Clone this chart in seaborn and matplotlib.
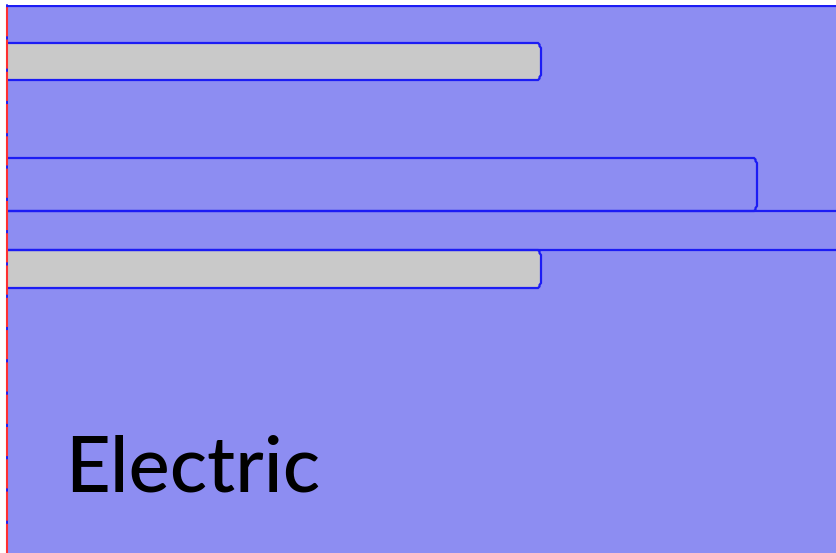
import matplotlib
matplotlib.use('Agg')
import matplotlib.pyplot as plt
import seaborn as sns
from matplotlib.patches import Polygon

W, H = 836, 553
LEFT, TOP = 7, 5
BG = '#8d8df2'
BLUE = '#1c1cf4'
RED = '#ff3030'

bar_names = ['upper', 'middle', 'lower']
bar_ends = [541, 757, 541]
bar_centers = [61.5, 184.5, 269]
bar_heights = [37, 53, 38]
bar_colors = ['#c9c9c9', '#8d8df2', '#c9c9c9']
open_lines = [211, 250]

sns.set_theme(style='white')
fig = plt.figure(figsize=(W / 100, H / 100), dpi=100, facecolor='white')
ax = fig.add_axes([LEFT / W, 0, 1 - LEFT / W, 1 - TOP / H], facecolor=BG)

for end, center, height, color in zip(bar_ends, bar_centers, bar_heights, bar_colors):
    sns.barplot(x=[end], y=[center], orient='h', native_scale=True, width=height,
                color=color, saturation=1, ax=ax)

ax.set_xlim(LEFT, W)
ax.set_ylim(H, TOP)

# swap the square bars for outlines with the small cut corners on the right
for bar in list(ax.patches):
    x1 = bar.get_x() + bar.get_width()
    y0, y1 = bar.get_y(), bar.get_y() + bar.get_height()
    c = bar.get_facecolor()
    bar.set_visible(False)
    ax.add_patch(Polygon([(LEFT, y0), (x1 - 3, y0), (x1 - 1.5, y0 + 1.5), (x1 - 1.5, y0 + 3),
                          (x1, y0 + 5), (x1, y1 - 5), (x1 - 1.5, y1 - 3), (x1 - 1.5, y1 - 1.5), (x1 - 3, y1),
                          (LEFT, y1)],
                         closed=False, facecolor=c, edgecolor=BLUE, linewidth=1.6, zorder=3))

for y in open_lines:
    ax.axhline(y, color=BLUE, lw=1.6, zorder=4)
ax.axhline(TOP + 0.5, color=BLUE, lw=1.6, zorder=4)

for spine in ax.spines.values():
    spine.set_visible(False)
# red edge with the blue showing through in short stretches
ax.axvline(LEFT + 0.5, color=BLUE, lw=1.4, clip_on=False, zorder=5)
ax.axvline(LEFT - 0.2, color=RED, lw=1.5, clip_on=False, zorder=6, dashes=(14, 1.5))

ax.text(65, 492, 'Electric', fontsize=56, family='Lato', weight=500, color='black',
        va='baseline', ha='left', zorder=7)

ax.set(xlabel=None, ylabel=None, xticks=[], yticks=[])
fig.savefig('out.png', dpi=100)
